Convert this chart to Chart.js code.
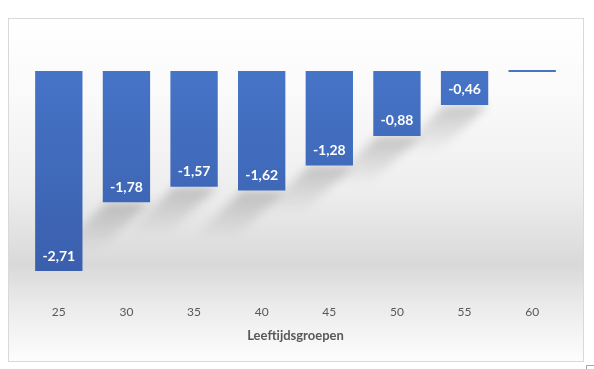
<!DOCTYPE html>
<html>
<head>
<meta charset="utf-8">
<script src="https://cdn.jsdelivr.net/npm/chart.js@4.4.0/dist/chart.umd.min.js"></script>
<style>
  html, body { margin: 0; padding: 0; background: #fff; }
  #wrap { width: 594px; height: 369px; position: relative; }
</style>
</head>
<body>
<div id="wrap"><canvas id="myChart"></canvas></div>
<script>
// data
const leeftijden = ['25', '30', '35', '40', '45', '50', '55', '60'];
const verschil = [-2.71, -1.78, -1.57, -1.62, -1.28, -0.88, -0.46, 0];
const asTitel = 'Leeftijdsgroepen';

function nlGetal(v) {
  return v.toFixed(2).replace('.', ',');
}

// frame + grey "floor" gradient behind everything
const achtergrond = {
  id: 'achtergrond',
  beforeDraw: function(chart) {
    var ctx = chart.ctx;
    ctx.save();
    ctx.fillStyle = '#ffffff';
    ctx.fillRect(0, 0, chart.width, chart.height);
    var g = ctx.createLinearGradient(0, 18, 0, 361);
    g.addColorStop(0, '#ffffff');
    g.addColorStop(0.22, '#fafafa');
    g.addColorStop(0.5, '#eeeeee');
    g.addColorStop(0.72, '#d9d9d9');
    g.addColorStop(0.84, '#ebebeb');
    g.addColorStop(1, '#fdfdfd');
    ctx.fillStyle = g;
    ctx.fillRect(8, 18, 575, 343);
    ctx.strokeStyle = '#d9d9d9';
    ctx.lineWidth = 1;
    ctx.strokeRect(8.5, 18.5, 575, 343);
    // little corner mark bottom right
    ctx.strokeStyle = '#a6a6a6';
    ctx.beginPath();
    ctx.moveTo(586.5, 369);
    ctx.lineTo(586.5, 365.5);
    ctx.lineTo(594, 365.5);
    ctx.stroke();
    ctx.restore();
  }
};

// soft diagonal shadows under the bars (skipped when they would fall outside the plot)
const schaduw = {
  id: 'schaduw',
  beforeDatasetsDraw: function(chart) {
    var ctx = chart.ctx;
    var area = chart.chartArea;
    var meta = chart.getDatasetMeta(0);
    var dx = 52, dy = 48;
    ctx.save();
    ctx.filter = 'blur(5px)';
    meta.data.forEach(function(bar, i) {
      if (verschil[i] >= 0) return;
      var w = bar.width;
      var x0 = bar.x - w / 2;
      var x1 = bar.x + w / 2;
      var y = bar.y;
      if (x0 - dx < area.left) return;
      var g = ctx.createLinearGradient(0, y, 0, y + dy);
      g.addColorStop(0, 'rgba(0,0,0,0.2)');
      g.addColorStop(1, 'rgba(0,0,0,0)');
      ctx.fillStyle = g;
      ctx.beginPath();
      ctx.moveTo(x0 + 4, y);
      ctx.lineTo(x1, y);
      ctx.lineTo(x1 - dx, y + dy);
      ctx.lineTo(x0 - dx + 8, y + dy);
      ctx.closePath();
      ctx.fill();
    });
    ctx.restore();
  }
};

// white value labels inside the bar ends
const waardeLabels = {
  id: 'waardeLabels',
  afterDatasetsDraw: function(chart) {
    var ctx = chart.ctx;
    var meta = chart.getDatasetMeta(0);
    ctx.save();
    ctx.font = 'bold 14px Lato';
    ctx.fillStyle = '#ffffff';
    ctx.textAlign = 'center';
    ctx.textBaseline = 'middle';
    meta.data.forEach(function(bar, i) {
      if (verschil[i] === 0) return;
      ctx.fillText(nlGetal(verschil[i]), bar.x, bar.y - 15);
    });
    ctx.restore();
  }
};

function balkKleur(context) {
  var chart = context.chart;
  if (!chart.chartArea) return '#4472c4';
  var y = chart.scales.y;
  var g = chart.ctx.createLinearGradient(0, y.getPixelForValue(0), 0, y.getPixelForValue(-2.71));
  g.addColorStop(0, '#4674c7');
  g.addColorStop(1, '#3a5fad');
  return g;
}

const data = {
  labels: leeftijden,
  datasets: [{
    data: verschil,
    backgroundColor: balkKleur,
    borderWidth: 0,
    minBarLength: 2,
    categoryPercentage: 1,
    barPercentage: 0.7
  }]
};

const config = {
  type: 'bar',
  data: data,
  plugins: [achtergrond, schaduw, waardeLabels],
  options: {
    responsive: true,
    maintainAspectRatio: false,
    animation: false,
    layout: { padding: { left: 25, right: 28, top: 30, bottom: 21 } },
    plugins: {
      legend: { display: false },
      tooltip: { enabled: false }
    },
    scales: {
      x: {
        grid: { display: false, drawTicks: false },
        border: { display: false },
        ticks: {
          color: '#595959',
          padding: 3,
          font: { family: 'Lato', size: 12 }
        },
        title: {
          display: true,
          text: asTitel,
          color: '#595959',
          padding: { top: 6, bottom: 4 },
          font: { family: 'Lato', size: 13, weight: 'bold' }
        }
      },
      y: {
        display: false,
        min: -3.13,
        max: 0.5556
      }
    }
  }
};

const myChart = new Chart(document.getElementById('myChart'), config);
</script>
</body>
</html>
